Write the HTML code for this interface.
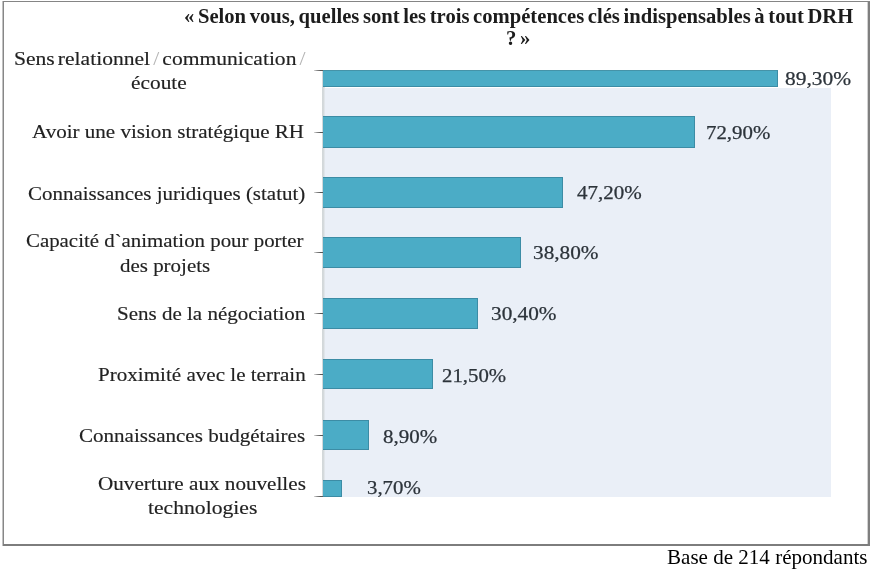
<!DOCTYPE html>
<html lang="fr">
<head>
<meta charset="utf-8">
<title>Compétences clés DRH</title>
<style>
html,body{margin:0;padding:0;background:#fff;}
body{width:872px;height:569px;position:relative;overflow:hidden;font-family:"Liberation Serif","Times New Roman",serif;}
#chart{position:absolute;left:0;top:0;width:872px;height:569px;}
.fr{position:absolute;}
.fr.t{left:3px;top:1px;width:867px;height:1px;background:#858585;}
.fr.b{left:3px;top:544px;width:867px;height:2px;background:#7d7d7d;}
.fr.l{left:2px;top:1px;width:2px;height:545px;background:linear-gradient(to right,#c2c2c2 50%,#878787 50%);}
.fr.r{left:867px;top:1px;width:3px;height:545px;background:linear-gradient(to right,#d2d2d2 33.4%,#7f7f7f 33.4%);}
.plot{position:absolute;left:322px;top:70px;width:509px;height:426.5px;overflow:hidden;}
.bg{position:absolute;left:0;top:17.5px;width:509px;height:409px;background:#eaeff7;}
.axis{position:absolute;left:0;top:0;width:3px;height:100%;background:linear-gradient(to right,#d2d7d9 0,#d5dadd 66%,#e0e5ea 67%);}
.bar{position:absolute;left:1.4px;height:31.5px;background:#4bacc6;box-sizing:border-box;border:1px solid #3c8ca5;border-left:none;}
.tick{position:absolute;left:314px;width:9px;height:1px;background:linear-gradient(to right,#d8d8d8,#8a8a8a 35%,#555 75%,#5a5a5a);}
.t{position:absolute;white-space:nowrap;font-size:20px;line-height:20px;margin:0;transform-origin:0 0;word-spacing:0;-webkit-text-stroke:0.15px currentColor;}
.ttl{font-weight:bold;color:#1c1c1c;word-spacing:-1.5px;-webkit-text-stroke:0;}
.lab{color:#222;font-size:19.3px;}
.sl{color:#b4b4b4;-webkit-text-stroke:0;}
.val{color:#2c333a;font-size:18.8px;-webkit-text-stroke:0.25px currentColor;}
.foot{color:#000;-webkit-text-stroke:0;font-size:21px;}
</style>
</head>
<body>
<div id="chart">
<div class="fr l"></div>
<div class="fr r"></div>
<div class="fr t"></div>
<div class="fr b"></div>
<div class="plot">
<div class="bg"></div>
<div class="axis"></div>
<div class="bar" style="top:0px;height:17px;border-top-color:#4593a8;width:454.7px"></div>
<div class="bar" style="top:46px;height:32px;width:371.4px"></div>
<div class="bar" style="top:107px;height:31px;width:239.9px"></div>
<div class="bar" style="top:167px;height:31px;width:198.0px"></div>
<div class="bar" style="top:228px;height:31px;width:155.1px"></div>
<div class="bar" style="top:289px;height:30px;width:110.1px"></div>
<div class="bar" style="top:350px;height:30px;width:46.1px"></div>
<div class="bar" style="top:410px;height:17px;width:19.1px"></div>
</div>
<div class="tick" style="top:70px"></div>
<div class="tick" style="top:132px"></div>
<div class="tick" style="top:192px"></div>
<div class="tick" style="top:252px"></div>
<div class="tick" style="top:313px"></div>
<div class="tick" style="top:374px"></div>
<div class="tick" style="top:435px"></div>
<div class="tick" style="top:496px"></div>
<h1 id="t1" class="t ttl" style="left:183.50px;top:6px;transform:scaleX(1.0314)">« Selon vous, quelles sont les trois compétences clés indispensables à tout DRH</h1>
<h1 id="t2" class="t ttl" style="left:506.00px;top:28px;transform:scaleX(1.0381)">? »</h1>
<span id="l1a" class="t lab" style="left:13.50px;top:49px;transform:scaleX(1.1179);word-spacing:-2px">Sens relationnel <span class="sl">/</span> communication <span class="sl">/</span></span>
<span id="l1b" class="t lab" style="left:130.50px;top:73px;transform:scaleX(1.1079)">écoute</span>
<span id="l2" class="t lab" style="left:32.00px;top:122px;transform:scaleX(1.0917)">Avoir une vision stratégique RH</span>
<span id="l3" class="t lab" style="left:27.50px;top:184px;transform:scaleX(1.0879)">Connaissances juridiques (statut)</span>
<span id="l4a" class="t lab" style="left:25.50px;top:231px;transform:scaleX(1.0822)">Capacité d`animation pour porter</span>
<span id="l4b" class="t lab" style="left:119.50px;top:256px;transform:scaleX(1.0860)">des projets</span>
<span id="l5" class="t lab" style="left:116.50px;top:304px;transform:scaleX(1.0889)">Sens de la négociation</span>
<span id="l6" class="t lab" style="left:98.00px;top:365px;transform:scaleX(1.0931)">Proximité avec le terrain</span>
<span id="l7" class="t lab" style="left:78.50px;top:426px;transform:scaleX(1.0913)">Connaissances budgétaires</span>
<span id="l8a" class="t lab" style="left:98.00px;top:474px;transform:scaleX(1.0967)">Ouverture aux nouvelles</span>
<span id="l8b" class="t lab" style="left:147.50px;top:498px;transform:scaleX(1.1217)">technologies</span>
<span id="v1" class="t val" style="left:784.50px;top:69px;transform:scaleX(1.1409)">89,30%</span>
<span id="v2" class="t val" style="left:705.50px;top:123px;transform:scaleX(1.1113)">72,90%</span>
<span id="v3" class="t val" style="left:577.00px;top:183px;transform:scaleX(1.1178)">47,20%</span>
<span id="v4" class="t val" style="left:532.50px;top:243px;transform:scaleX(1.1322)">38,80%</span>
<span id="v5" class="t val" style="left:491.00px;top:304px;transform:scaleX(1.1322)">30,40%</span>
<span id="v6" class="t val" style="left:442.00px;top:366px;transform:scaleX(1.1069)">21,50%</span>
<span id="v7" class="t val" style="left:382.50px;top:427px;transform:scaleX(1.1158)">8,90%</span>
<span id="v8" class="t val" style="left:366.50px;top:478px;transform:scaleX(1.1089)">3,70%</span>
<p id="ft" class="t foot" style="left:666.50px;top:547px;transform:scaleX(1.0024)">Base de 214 répondants</p>
</div>
</body>
</html>
